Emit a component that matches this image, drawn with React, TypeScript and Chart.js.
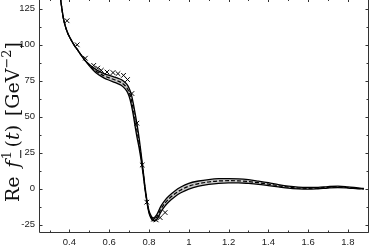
import React, { useEffect, useRef } from "react";
import { Chart, registerables } from "chart.js";

Chart.register(...registerables);

// ---- data ----
const curveX = [0.35, 0.36, 0.37, 0.38, 0.39, 0.40, 0.42, 0.44, 0.46, 0.48, 0.50, 0.52, 0.54, 0.56, 0.58, 0.60, 0.62, 0.64, 0.66, 0.68, 0.69, 0.70, 0.71, 0.72, 0.73, 0.74, 0.75, 0.76, 0.77, 0.78, 0.79, 0.80, 0.81, 0.82, 0.83, 0.84, 0.86, 0.88, 0.90, 0.93, 0.96, 1.00, 1.05, 1.10, 1.15, 1.20, 1.25, 1.30, 1.35, 1.40, 1.45, 1.50, 1.55, 1.60, 1.65, 1.70, 1.75, 1.80, 1.85, 1.88];
const centralY = [137, 127, 118, 112.5, 108.5, 105.5, 100.5, 96.5, 92.5, 88.8, 85.8, 83.2, 81.0, 79.4, 78.0, 77.0, 76.0, 75.0, 73.8, 71.5, 69.8, 67.0, 62.5, 56.0, 48.0, 40.0, 32.0, 22.5, 12.0, 0.5, -9.0, -16.0, -19.5, -21.2, -20.8, -19.5, -14.0, -10.0, -7.0, -3.5, -0.8, 1.8, 3.6, 4.7, 5.4, 5.6, 5.5, 5.0, 4.2, 3.2, 2.1, 1.1, 0.5, 0.3, 0.5, 1.0, 1.3, 0.9, 0.3, 0.0];
const upperY = [137, 127, 118, 112.5, 108.5, 105.5, 100.5, 96.5, 92.5, 88.9, 86.3, 84.1, 82.2, 80.8, 79.6, 78.7, 77.8, 76.9, 75.8, 73.7, 72.2, 69.8, 66.0, 60.0, 52.5, 44.5, 35.5, 24.8, 13.5, 1.5, -8.2, -15.2, -18.6, -20.2, -19.5, -17.8, -12.0, -8.0, -5.0, -1.5, 1.2, 3.8, 5.4, 6.4, 7.0, 7.1, 6.9, 6.3, 5.3, 4.2, 2.9, 1.8, 1.1, 0.9, 1.0, 1.5, 1.8, 1.3, 0.6, 0.2];
const lowerY = [137, 127, 118, 112.5, 108.5, 105.5, 100.5, 96.5, 92.5, 88.7, 85.3, 82.3, 79.8, 78.0, 76.4, 75.3, 74.2, 73.1, 71.8, 69.3, 67.4, 64.2, 59.0, 52.0, 43.5, 35.5, 28.5, 20.2, 10.5, -0.5, -9.8, -16.8, -20.4, -22.2, -22.1, -21.2, -16.0, -12.0, -9.0, -5.5, -2.8, -0.2, 1.8, 3.0, 3.8, 4.1, 4.1, 3.7, 3.1, 2.2, 1.3, 0.4, -0.1, -0.3, 0.0, 0.5, 0.8, 0.5, 0.0, -0.2];

const pointsX = [0.388, 0.439, 0.480, 0.522, 0.542, 0.560, 0.589, 0.619, 0.644, 0.672, 0.692, 0.714, 0.739, 0.766, 0.789, 0.823, 0.836, 0.856, 0.881];
const pointsY = [116.6, 99.9, 90.6, 85.6, 83.7, 82.2, 81.0, 80.6, 79.9, 78.7, 75.8, 66.1, 45.5, 16.5, -9.3, -21.1, -21.6, -20.0, -16.5];

const xTickValues = [0.4, 0.6, 0.8, 1, 1.2, 1.4, 1.6, 1.8];
const xMinorValues = [0.3, 0.5, 0.7, 0.9, 1.1, 1.3, 1.5, 1.7, 1.9];
const yTickValues = [-25, 0, 25, 50, 75, 100, 125];
const yMinorValues = [-12.5, 12.5, 37.5, 62.5, 87.5, 112.5];

const X_MIN = 0.247;
const X_MAX = 1.906;
const Y_MIN = -30;
const Y_MAX = 131;

const toPts = (xs: number[], ys: number[]) => xs.map((x, i) => ({ x, y: ys[i] }));

const TICK_FONT = '"Liberation Sans", Arial, Helvetica, sans-serif';
const SERIF = '"DejaVu Serif", "Liberation Serif", serif';

function drawYTitle(ctx: CanvasRenderingContext2D) {
  type Seg =
    | { kind: "text"; t: string; it: boolean; sz: number; dy: number }
    | { kind: "gap"; em: number }
    | { kind: "stack"; sup: string; sub: string };
  const segs: Seg[] = [
    { kind: "text", t: "Re", it: false, sz: 1, dy: 0 },
    { kind: "gap", em: 0.45 },
    { kind: "text", t: "f", it: true, sz: 1, dy: 0 },
    { kind: "gap", em: 0.08 },
    { kind: "stack", sup: "1", sub: "\u2212" },
    { kind: "gap", em: 0.05 },
    { kind: "text", t: "(", it: false, sz: 1, dy: 0 },
    { kind: "text", t: "t", it: true, sz: 1, dy: 0 },
    { kind: "text", t: ")", it: false, sz: 1, dy: 0 },
    { kind: "gap", em: 0.45 },
    { kind: "text", t: "[GeV", it: false, sz: 1, dy: 0 },
    { kind: "text", t: "\u22122", it: false, sz: 0.68, dy: -0.42 },
    { kind: "text", t: "]", it: false, sz: 1, dy: 0 },
  ];
  const font = (S: number, it: boolean) => `${it ? "italic " : ""}${S.toFixed(2)}px ${SERIF}`;
  const measure = (S: number) => {
    let w = 0;
    for (const s of segs) {
      if (s.kind === "gap") w += s.em * S;
      else if (s.kind === "text") {
        ctx.font = font(S * s.sz, s.it);
        w += ctx.measureText(s.t).width;
      } else {
        ctx.font = font(S * 0.68, false);
        w += Math.max(ctx.measureText(s.sup).width, ctx.measureText(s.sub).width);
      }
    }
    return w;
  };
  const target = 160;
  let S = 16;
  S = (S * target) / measure(S);
  const total = measure(S);
  ctx.save();
  ctx.translate(19, 122);
  ctx.rotate(-Math.PI / 2);
  ctx.fillStyle = "#111";
  ctx.textBaseline = "alphabetic";
  ctx.textAlign = "left";
  let x = -total / 2;
  for (const s of segs) {
    if (s.kind === "gap") {
      x += s.em * S;
    } else if (s.kind === "text") {
      ctx.font = font(S * s.sz, s.it);
      ctx.fillText(s.t, x, s.dy * S);
      x += ctx.measureText(s.t).width;
    } else {
      ctx.font = font(S * 0.68, false);
      ctx.fillText(s.sup, x, -0.42 * S);
      ctx.fillText(s.sub, x, 0.3 * S);
      x += Math.max(ctx.measureText(s.sup).width, ctx.measureText(s.sub).width);
    }
  }
  ctx.restore();
}

const framePlugin = {
  id: "frameTicks",
  afterDraw(chart: any) {
    const { ctx, chartArea: a, scales } = chart;
    const xs = scales.x;
    const ys = scales.y;
    const L = Math.round(a.left) + 0.5;
    const R = Math.round(a.right) - 0.5;
    const B = Math.round(a.bottom) + 0.5;
    const T = a.top;
    ctx.save();
    ctx.strokeStyle = "#333";
    ctx.lineWidth = 1;
    ctx.beginPath();
    ctx.moveTo(L, T);
    ctx.lineTo(L, B);
    ctx.lineTo(R, B);
    ctx.lineTo(R, T);
    const xt = (v: number, len: number) => {
      const p = Math.round(xs.getPixelForValue(v)) + 0.5;
      ctx.moveTo(p, B);
      ctx.lineTo(p, B - len);
      ctx.moveTo(p, T);
      ctx.lineTo(p, T + len - 1);
    };
    const yt = (v: number, len: number) => {
      const p = Math.round(ys.getPixelForValue(v)) + 0.5;
      ctx.moveTo(L, p);
      ctx.lineTo(L + len, p);
      ctx.moveTo(R, p);
      ctx.lineTo(R - len, p);
    };
    xTickValues.forEach((v) => xt(v, 3));
    xMinorValues.forEach((v) => xt(v, 2));
    yTickValues.forEach((v) => yt(v, 3));
    yMinorValues.forEach((v) => yt(v, 2));
    ctx.stroke();
    ctx.restore();
    drawYTitle(ctx);
  },
};

export default function App() {
  const ref = useRef<HTMLCanvasElement>(null);
  useEffect(() => {
    if (!ref.current) return;
    const lineBase = {
      pointRadius: 0,
      borderColor: "#000",
      cubicInterpolationMode: "monotone" as const,
    };
    const chart = new Chart(ref.current, {
      type: "line",
      data: {
        datasets: [
          { ...lineBase, label: "lower", data: toPts(curveX, lowerY), borderWidth: 1.3, fill: false, order: 3 },
          { ...lineBase, label: "upper", data: toPts(curveX, upperY), borderWidth: 1.3, fill: "-1", backgroundColor: "#c9c9c9", order: 2 },
          { ...lineBase, label: "central", data: toPts(curveX, centralY), borderWidth: 1.2, borderDash: [4, 2], fill: false, order: 1 },
          {
            label: "data",
            data: toPts(pointsX, pointsY),
            showLine: false,
            pointStyle: "crossRot",
            pointRadius: 3.3,
            pointBorderWidth: 1,
            borderColor: "#000",
            pointBorderColor: "#000",
            backgroundColor: "#000",
            fill: false,
            order: 0,
          },
        ],
      },
      options: {
        animation: false,
        responsive: false,
        devicePixelRatio: 1,
        layout: { autoPadding: false, padding: { left: 0, right: 2, top: 0, bottom: 0 } },
        plugins: {
          legend: { display: false },
          tooltip: { enabled: false },
          title: { display: false },
          filler: { drawTime: "beforeDatasetsDraw" },
        },
        scales: {
          x: {
            type: "linear",
            min: X_MIN,
            max: X_MAX,
            grid: { display: false, drawTicks: false },
            border: { display: false },
            ticks: {
              font: { family: TICK_FONT, size: 9.5 },
              color: "#222",
              padding: 5,
              maxRotation: 0,
              autoSkip: false,
              callback: (v: any) => String(+(+v).toFixed(2)),
            },
            afterBuildTicks: (s: any) => {
              s.ticks = xTickValues.map((v) => ({ value: v }));
            },
            afterFit: (s: any) => {
              s.height = 16;
              s.paddingLeft = 0;
              s.paddingRight = 0;
            },
          },
          y: {
            type: "linear",
            min: Y_MIN,
            max: Y_MAX,
            grid: { display: false, drawTicks: false },
            border: { display: false },
            ticks: {
              font: { family: TICK_FONT, size: 9.5 },
              color: "#222",
              padding: 4,
              autoSkip: false,
              callback: (v: any) => String(v),
            },
            afterBuildTicks: (s: any) => {
              s.ticks = yTickValues.map((v) => ({ value: v }));
            },
            afterFit: (s: any) => {
              s.width = 39;
              s.paddingTop = 0;
              s.paddingBottom = 0;
            },
          },
        },
      },
      plugins: [framePlugin],
    });
    return () => chart.destroy();
  }, []);
  return (
    <div style={{ position: "fixed", left: 0, top: 0, width: 371, height: 248, background: "#fff" }}>
      <canvas ref={ref} width={371} height={248} style={{ display: "block", width: 371, height: 248 }} />
    </div>
  );
}
